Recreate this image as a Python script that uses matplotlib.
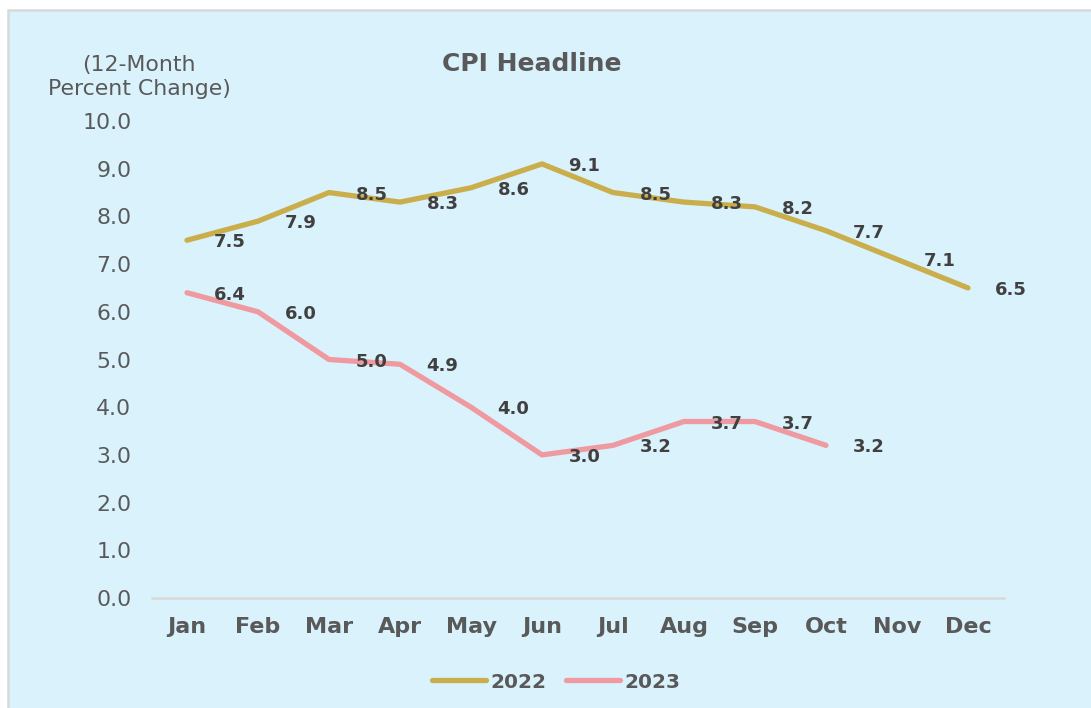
import matplotlib.pyplot as plt
from matplotlib.patches import Rectangle

# data
months = ["Jan", "Feb", "Mar", "Apr", "May", "Jun", "Jul", "Aug", "Sep", "Oct", "Nov", "Dec"]
cpi_2022 = [7.5, 7.9, 8.5, 8.3, 8.6, 9.1, 8.5, 8.3, 8.2, 7.7, 7.1, 6.5]
cpi_2023 = [6.4, 6.0, 5.0, 4.9, 4.0, 3.0, 3.2, 3.7, 3.7, 3.2]
yticks = [0, 1, 2, 3, 4, 5, 6, 7, 8, 9, 10]

bg = "#DAF2FC"
gray = "#595959"
gold = "#C9AE4B"
pink = "#EF99A0"

plt.rcParams['font.family'] = ['DejaVu Sans']

fig = plt.figure(figsize=(10.91, 7.08), dpi=100)
fig.patch.set_facecolor("white")
# chart area frame
fig.patches.append(Rectangle((7.5 / 1091, -0.1), 1.2, 1.1 - 10.5 / 708,
                             transform=fig.transFigure, facecolor=bg,
                             edgecolor="#D9D9D9", linewidth=1.8, zorder=-5))

ax = fig.add_axes([151.5 / 1091, 110 / 708, 852 / 1091, 477 / 708])
ax.set_facecolor("none")

x22 = list(range(len(cpi_2022)))
x23 = list(range(len(cpi_2023)))
ax.plot(x22, cpi_2022, color=gold, lw=3.8, solid_capstyle="round",
        solid_joinstyle="round", label="2022")
ax.plot(x23, cpi_2023, color=pink, lw=3.8, solid_capstyle="round",
        solid_joinstyle="round", label="2023")

# data labels to the right of each point
for xs, ys in [(x22, cpi_2022), (x23, cpi_2023)]:
    for x, y in zip(xs, ys):
        ax.annotate(f"{y:.1f}", (x, y), xytext=(19, -1.5), textcoords="offset points",
                    ha="left", va="center", fontsize=13, fontweight="bold",
                    color="#404040")

ax.set_xlim(-0.5, 11.5)
ax.set_ylim(0, 10)
ax.set_xticks(x22)
ax.set_xticklabels(months, fontsize=16, fontweight="bold", color=gray)
ax.set_yticks(yticks)
ax.set_yticklabels([f"{v:.1f}" for v in yticks], fontsize=15.8, color=gray)
ax.tick_params(axis="both", length=0)
ax.tick_params(axis="x", pad=14)
ax.tick_params(axis="y", pad=14.5)

for s in ["top", "right", "left"]:
    ax.spines[s].set_visible(False)
ax.spines["bottom"].set_color("#D9D9D9")
ax.spines["bottom"].set_linewidth(1.8)

fig.text(532 / 1091, 1 - 64 / 708, "CPI Headline", ha="center", va="center",
         fontsize=18, fontweight="bold", color=gray)
fig.text(139 / 1091, 1 - 77 / 708, "(12-Month\nPercent Change)", ha="center",
         va="center", fontsize=15.8, color=gray, linespacing=1.3)

leg = fig.legend(loc="center", bbox_to_anchor=(556 / 1091, 1 - 682 / 708), ncol=2,
                 frameon=False, handlelength=2.7, columnspacing=1.0, handletextpad=0.2,
                 prop={"size": 14.5, "weight": "bold"})
for t in leg.get_texts():
    t.set_color(gray)

fig.savefig("out.png", dpi=100, facecolor=fig.get_facecolor())
